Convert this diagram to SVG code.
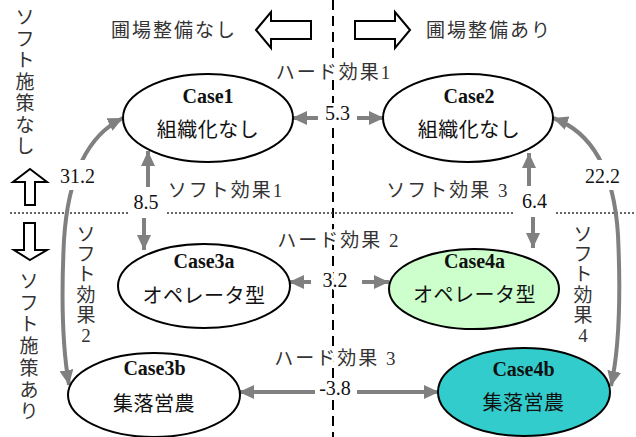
<svg xmlns="http://www.w3.org/2000/svg" width="636" height="437" viewBox="0 0 636 437">
<defs>
<marker id="ah" markerUnits="userSpaceOnUse" markerWidth="16" markerHeight="14" refX="15" refY="7" orient="auto-start-reverse">
<path d="M0,0 L15,7 L0,14 z" fill="#808080"/>
</marker>
<style>
.n ellipse{stroke:#000;stroke-width:2}
.case{font-family:"Liberation Serif",serif;font-weight:bold;font-size:20px;fill:#111;text-anchor:middle}
.jp{font-family:"Noto Sans CJK JP",sans-serif;font-size:20px;fill:#111;text-anchor:middle;letter-spacing:0.5px}
.lbl{font-family:"Liberation Serif","Noto Sans CJK JP",sans-serif;font-size:19px;letter-spacing:2px;fill:#333;text-anchor:middle}
.num{font-family:"Liberation Serif",serif;font-size:20px;fill:#111;text-anchor:middle}
.bg{paint-order:stroke;stroke:#fff;stroke-width:6px;stroke-linejoin:round}
.vt{font-family:"Liberation Serif","Noto Sans CJK JP",sans-serif;font-size:19px;fill:#333;text-anchor:middle}
.c{fill:none;stroke:#808080;stroke-width:4;marker-end:url(#ah)}
.c2{fill:none;stroke:#808080;stroke-width:4;marker-start:url(#ah);marker-end:url(#ah)}
.hol{fill:#fff;stroke:#000;stroke-width:2;stroke-linejoin:miter}
</style>
</defs>
<rect width="636" height="437" fill="#fff"/>

<!-- guide lines -->
<g id="guides">
<line x1="333" y1="0" x2="333" y2="437" stroke="#000" stroke-width="2" stroke-dasharray="10 6"/>
<g stroke="#333" stroke-width="1.5" stroke-dasharray="2 2">
<line x1="10" y1="213" x2="128" y2="213"/>
<line x1="167" y1="213" x2="513" y2="213"/>
<line x1="556" y1="213" x2="636" y2="213"/>
</g>
<path class="hol" d="M256,30 L271,12 L271,21 L311,21 L311,39 L271,39 L271,48 Z"/>
<path class="hol" d="M410,30 L395,12 L395,21 L355,21 L355,39 L395,39 L395,48 Z"/>
<path class="hol" d="M30,169 L47,182 L35,182 L35,205 L25,205 L25,182 L13,182 Z"/>
<path class="hol" d="M30,260 L47,250 L35,250 L35,223 L24,223 L24,250 L14,250 Z"/>
<text class="lbl" x="174" y="37">圃場整備なし</text>
<text class="lbl" x="489" y="37">圃場整備あり</text>
<text class="vt"><tspan x="25" y="24">ソ</tspan><tspan x="25" y="45.5">フ</tspan><tspan x="25" y="67">ト</tspan><tspan x="25" y="88.5">施</tspan><tspan x="25" y="110">策</tspan><tspan x="25" y="131.5">な</tspan><tspan x="25" y="153">し</tspan></text>
<text class="vt"><tspan x="29" y="288">ソ</tspan><tspan x="29" y="309.7">フ</tspan><tspan x="29" y="331.4">ト</tspan><tspan x="29" y="353.1">施</tspan><tspan x="29" y="374.8">策</tspan><tspan x="29" y="396.5">あ</tspan><tspan x="29" y="418">り</tspan></text>
</g>

<!-- connectors -->
<g id="connectors">
<line class="c" x1="318" y1="118" x2="292" y2="118"/>
<line class="c" x1="357" y1="118" x2="384" y2="118"/>
<line class="c" x1="311" y1="282" x2="289" y2="282"/>
<line class="c" x1="362" y1="282" x2="389" y2="282"/>
<line class="c" x1="315" y1="392" x2="239" y2="392"/>
<line class="c" x1="357" y1="392" x2="439" y2="392"/>
<line class="c" x1="148" y1="187" x2="148" y2="151"/>
<line class="c" x1="144" y1="218" x2="144" y2="250"/>
<line class="c" x1="529" y1="186" x2="529" y2="153"/>
<line class="c" x1="533" y1="217" x2="533" y2="248"/>
<path class="c2" d="M123,118 C88,135 68,175 64,240 C61,300 62,345 69,385"/>
<path class="c2" d="M553,118 C592,132 614,170 618,235 C621,300 619,350 611,386"/>
</g>

<!-- connector labels -->
<g id="labels">
<rect x="56" y="160" width="44" height="30" fill="#fff"/>
<rect x="581" y="160" width="44" height="30" fill="#fff"/>
<text class="lbl bg" x="334" y="79">ハード効果1</text>
<text class="lbl bg" x="339" y="247">ハード効果 2</text>
<text class="lbl bg" x="336" y="365">ハード効果 3</text>
<text class="lbl" x="226" y="197">ソフト効果1</text>
<text class="lbl" x="448" y="197">ソフト効果 3</text>
<text class="num bg" x="337.5" y="120">5.3</text>
<text class="num bg" x="335" y="287">3.2</text>
<text class="num bg" x="335" y="395">-3.8</text>
<text class="num bg" x="146" y="209">8.5</text>
<text class="num bg" x="534.5" y="208">6.4</text>
<text class="num" x="77.5" y="183">31.2</text>
<text class="num" x="602.5" y="183">22.2</text>
<text class="vt"><tspan x="86" y="241">ソ</tspan><tspan x="86" y="261.2">フ</tspan><tspan x="86" y="281.4">ト</tspan><tspan x="86" y="301.6">効</tspan><tspan x="86" y="321.8">果</tspan><tspan x="86" y="342">2</tspan></text>
<text class="vt"><tspan x="583" y="241">ソ</tspan><tspan x="583" y="261.2">フ</tspan><tspan x="583" y="281.4">ト</tspan><tspan x="583" y="301.6">効</tspan><tspan x="583" y="321.8">果</tspan><tspan x="583" y="342">4</tspan></text>
</g>

<!-- nodes -->
<g id="case1" class="n">
<ellipse cx="208" cy="118" rx="85" ry="44" fill="#fff"/>
<text class="case" x="208" y="103">Case1</text>
<text class="jp" x="208" y="137">組織化なし</text>
</g>
<g id="case2" class="n">
<ellipse cx="468" cy="118" rx="85" ry="44" fill="#fff"/>
<text class="case" x="469" y="103">Case2</text>
<text class="jp" x="469" y="137">組織化なし</text>
</g>
<g id="case3a" class="n">
<ellipse cx="204" cy="286" rx="86" ry="42" fill="#fff"/>
<text class="case" x="204" y="268">Case3a</text>
<text class="jp" x="204" y="303">オペレータ型</text>
</g>
<g id="case4a" class="n">
<ellipse cx="474" cy="289" rx="85" ry="40" fill="#ccffcc"/>
<text class="case" x="474.5" y="268">Case4a</text>
<text class="jp" x="474.5" y="302">オペレータ型</text>
</g>
<g id="case3b" class="n">
<ellipse cx="154" cy="395" rx="86" ry="42" fill="#fff"/>
<text class="case" x="154.5" y="375">Case3b</text>
<text class="jp" x="154" y="411">集落営農</text>
</g>
<g id="case4b" class="n">
<ellipse cx="524" cy="392" rx="86" ry="44" fill="#33cccc"/>
<text class="case" x="523.5" y="376">Case4b</text>
<text class="jp" x="523.5" y="410">集落営農</text>
</g>
</svg>
